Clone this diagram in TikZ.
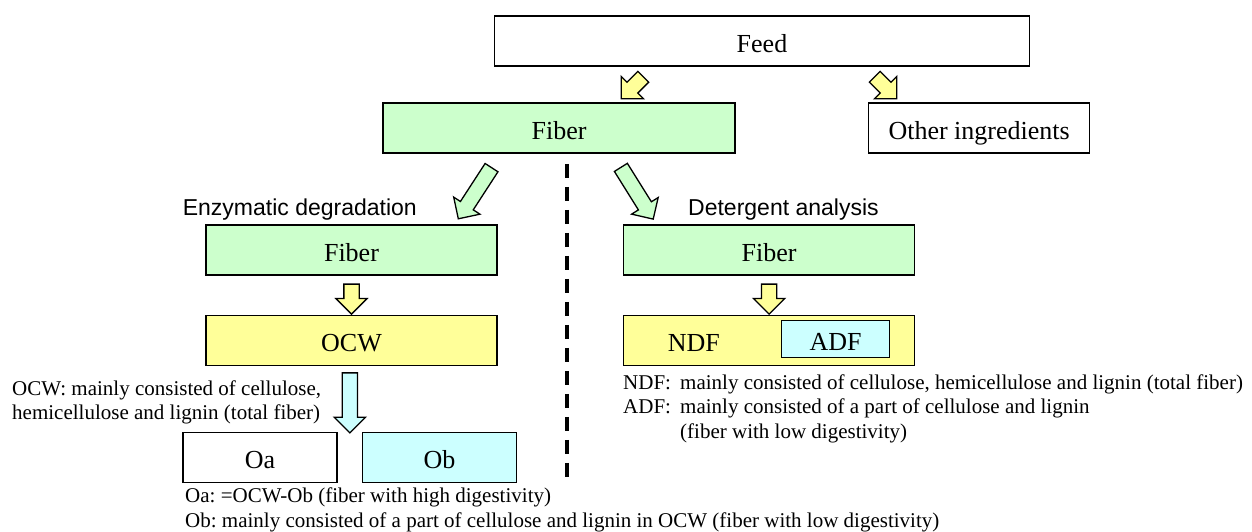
\documentclass[tikz,border=0pt]{standalone}
\usepackage{fontspec}
\setmainfont{Liberation Serif}
\newfontfamily\labelfont{Liberation Sans}
\usepackage{tikz}
\usetikzlibrary{positioning,calc,shapes.arrows}

\definecolor{fibgreen}{HTML}{CCFFCC}
\definecolor{ocwyellow}{HTML}{FFFF99}
\definecolor{adfcyan}{HTML}{CCFFFF}

\begin{document}
\begin{tikzpicture}[
  x=1pt, y=-1pt,
  blk/.style={rectangle, draw=black, line width=1.6pt, inner sep=0pt, minimum height=50pt, text height=22pt, text depth=0pt, font=\fontsize{26}{30}\selectfont},
  barrow/.style={single arrow, draw=black, line width=1.3pt, inner xsep=0pt, inner ysep=7pt, minimum width=30pt, single arrow head extend=8pt, single arrow tip angle=90},
  note/.style={anchor=base west, align=left, inner sep=0pt, font=\fontsize{21}{24.5}\selectfont\frenchspacing},
  lbl/.style={inner sep=0pt, font=\labelfont\fontsize{23}{27}\selectfont},
  divider/.style={line width=4pt, dash pattern=on 14pt off 9pt},
]
\useasboundingbox (0,0) rectangle (1252,531);
% boxes
\node[blk, minimum width=535pt] (feed) at (762,41) {Feed};
\node[blk, fill=fibgreen, minimum width=352pt] (fiber) at (559,128) {Fiber};
\node[blk, minimum width=221pt, right=132pt of fiber] (other) {Other ingredients};
\node[blk, fill=fibgreen, minimum width=291pt] (fibE) at (351.5,250) {Fiber};
\node[blk, fill=fibgreen, minimum width=291pt, right=125pt of fibE] (fibD) {Fiber};
\node[blk, fill=ocwyellow, minimum width=291pt, below=39pt of fibE] (ocw) {OCW};
\node[blk, fill=ocwyellow, minimum width=291pt, below=39pt of fibD] (ndf) {};
\node[blk, draw=none, minimum height=0pt] (ndfname) at ([xshift=71pt]ndf.west) {NDF};
\node[blk, fill=adfcyan, minimum width=108pt, minimum height=37pt, anchor=east] (adf) at ([xshift=-25pt,yshift=1.5pt]ndf.east) {ADF};
\node[blk, minimum width=154pt] (oa) at (260,457.5) {Oa};
\node[blk, fill=adfcyan, minimum width=154pt, right=24pt of oa] (ob) {Ob};
% divider
\coordinate (divtop) at ([xshift=8pt,yshift=-10pt]fiber.south);
\coordinate (divbot) at ([yshift=6pt]divtop |- ob.south);
\draw[divider] (divtop) -- (divbot);
% block arrows
\node[barrow, fill=ocwyellow, minimum height=31pt, rotate=225] (fa1) at (635,85) {};
\node[barrow, fill=ocwyellow, minimum height=31pt, rotate=315] (fa2) at (883,85) {};
\node[barrow, fill=fibgreen, minimum height=61pt, rotate=237] (ga1) at (477,190) {};
\node[barrow, fill=fibgreen, minimum height=61pt, rotate=302] (ga2) at (635,190) {};
\node[barrow, fill=ocwyellow, minimum height=30pt, rotate=270] (ya1) at ($(fibE.south)!0.5!(ocw.north)$) {};
\node[barrow, fill=ocwyellow, minimum height=30pt, rotate=270] (ya2) at ($(fibD.south)!0.5!(ndf.north)$) {};
\coordinate (gap) at ($(oa.north east)!0.5!(ob.north west)$);
\node[barrow, fill=adfcyan, minimum height=60pt, rotate=270] (ca1) at ($(gap)!0.5!(gap |- ocw.south)$) {};
% labels and notes
\node[lbl, anchor=base east] (enzlbl) at (417,215) {Enzymatic degradation};
\node[lbl, anchor=base west] (detlbl) at (688,215) {Detergent analysis};
\node[note] (ocwnote) at (12,419.5) {OCW: mainly consisted of cellulose,\\hemicellulose and lignin (total fiber)};
\node[note] (ndfnote) at (623,438) {\makebox[57pt][l]{NDF:}mainly consisted of cellulose, hemicellulose and lignin (total fiber)\\\makebox[57pt][l]{ADF:}mainly consisted of a part of cellulose and lignin\\\hspace*{57pt}(fiber with low digestivity)};
\node[note] (oanote) at (185,527) {Oa: =OCW-Ob (fiber with high digestivity)\\Ob: mainly consisted of a part of cellulose and lignin in OCW (fiber with low digestivity)};
\end{tikzpicture}
\end{document}
